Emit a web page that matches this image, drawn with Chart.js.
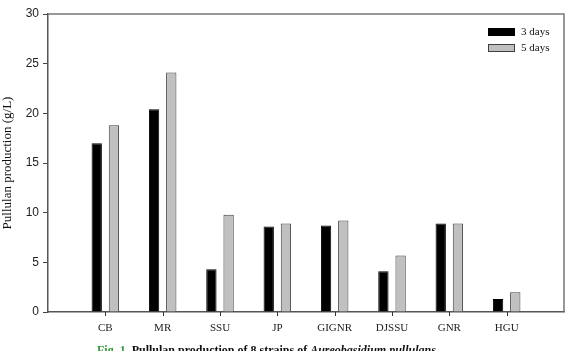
<!DOCTYPE html>
<html>
<head>
<meta charset="utf-8">
<script src="https://cdn.jsdelivr.net/npm/chart.js@4/dist/chart.umd.min.js"></script>
<style>
  html, body { margin: 0; padding: 0; background: #fff; overflow: hidden; }
  #wrap { position: relative; width: 572px; height: 351px; }
  #c { position: absolute; left: 0; top: 0; }
  #cap { position: absolute; left: 97px; top: 344px; font: bold 12px "Liberation Serif", serif; color: #111; white-space: nowrap; line-height: 12px; }
  #cap .fig { color: #3a9a3a; }
</style>
</head>
<body>
<div id="wrap">
  <canvas id="c" width="572" height="351"></canvas>
  <div id="cap"><span class="fig">Fig. 1.</span> Pullulan production of 8 strains of <i>Aureobasidium pullulans</i></div>
</div>
<script>
const categories = ['CB', 'MR', 'SSU', 'JP', 'GIGNR', 'DJSSU', 'GNR', 'HGU'];
const days3 = [17.0, 20.4, 4.3, 8.6, 8.7, 4.1, 8.9, 1.3];
const days5 = [18.8, 24.1, 9.8, 8.9, 9.2, 5.7, 8.9, 2.0];
const seriesNames = ['3 days', '5 days'];
const yTicks = [0, 5, 10, 15, 20, 25, 30];

// pad one empty slot on each side (the reference leaves a full slot margin)
const labels = [''].concat(categories, ['']);
const pad = arr => [null].concat(arr, [null]);

const frameAndLegend = {
  id: 'frameAndLegend',
  afterDraw(chart) {
    const ctx = chart.ctx, a = chart.chartArea;
    ctx.save();
    ctx.strokeStyle = '#777';
    ctx.lineWidth = 1.5;
    ctx.beginPath();
    ctx.moveTo(a.left, a.top);
    ctx.lineTo(a.right, a.top);
    ctx.lineTo(a.right, a.bottom);
    ctx.stroke();
    // x tick marks at category centres
    const xs = chart.scales.x;
    ctx.strokeStyle = '#333';
    ctx.lineWidth = 1;
    ctx.beginPath();
    categories.forEach((c, i) => {
      const px = Math.round(xs.getPixelForValue(i + 1)) + 0.5;
      ctx.moveTo(px, a.bottom);
      ctx.lineTo(px, a.bottom + 4);
    });
    ctx.stroke();
    // legend
    const x0 = a.right - 76, y0 = a.top + 14;
    chart.data.datasets.forEach((ds, i) => {
      const y = y0 + i * 16;
      ctx.fillStyle = ds.backgroundColor;
      ctx.fillRect(x0, y, 27, 8);
      ctx.strokeStyle = ds.borderColor;
      ctx.lineWidth = 1;
      ctx.strokeRect(x0 + 0.5, y + 0.5, 26, 7);
      ctx.fillStyle = '#111';
      ctx.font = '11px "Liberation Serif", serif';
      ctx.textBaseline = 'middle';
      ctx.textAlign = 'left';
      ctx.fillText(ds.label, x0 + 33, y + 4);
    });
    ctx.restore();
  }
};

new Chart(document.getElementById('c'), {
  type: 'bar',
  data: {
    labels: labels,
    datasets: [
      { label: seriesNames[0], data: pad(days3), backgroundColor: '#000000', borderColor: '#000000', borderWidth: 1 },
      { label: seriesNames[1], data: pad(days5), backgroundColor: '#c0c0c0', borderColor: '#404040', borderWidth: 1 }
    ]
  },
  options: {
    responsive: false,
    animation: false,
    layout: { padding: { left: 0, right: 8, top: 14, bottom: 0 } },
    datasets: { bar: { categoryPercentage: 0.6, barPercentage: 0.6, grouped: true } },
    plugins: { legend: { display: false }, tooltip: { enabled: false } },
    scales: {
      x: {
        type: 'category',
        offset: false,
        afterFit(s) { s.height = 39; s.paddingRight = 0; },
        grid: { offset: false, display: false, drawTicks: false },
        border: { display: true, color: '#555', width: 1.5 },
        ticks: {
          autoSkip: false,
          maxRotation: 0,
          padding: 10,
          color: '#222',
          font: { family: '"Liberation Serif", serif', size: 11 }
        }
      },
      y: {
        min: 0,
        max: 30,
        afterFit(s) { s.width = 48; },
        afterBuildTicks(s) { s.ticks = yTicks.map(v => ({ value: v })); },
        grid: { drawOnChartArea: false, tickLength: 5, tickColor: '#444' },
        border: { color: '#555', width: 1.5 },
        ticks: {
          padding: 4,
          color: '#222',
          font: { family: '"Liberation Sans", sans-serif', size: 12 }
        },
        title: {
          display: true,
          text: 'Pullulan production (g/L)',
          color: '#111',
          padding: { top: 0, bottom: 3 },
          font: { family: '"Liberation Serif", serif', size: 13 }
        }
      }
    }
  },
  plugins: [frameAndLegend]
});
</script>
</body>
</html>
